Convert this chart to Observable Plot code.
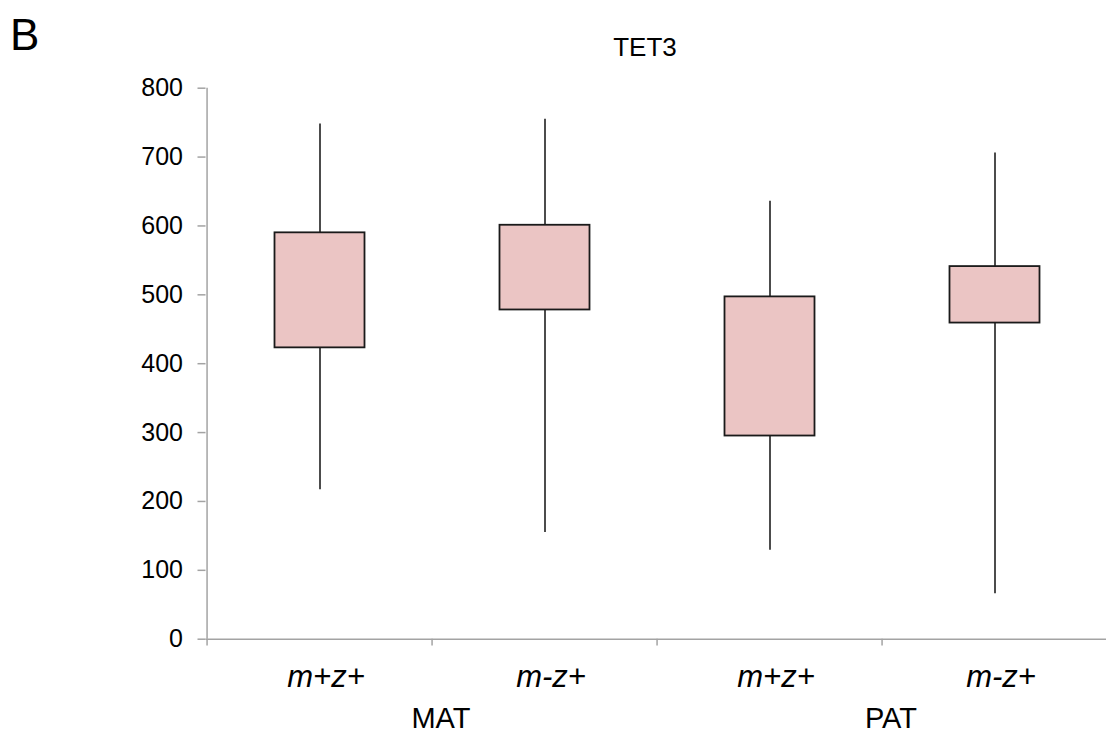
<!DOCTYPE html>
<html>
<head>
<meta charset="utf-8">
<script src="https://cdn.jsdelivr.net/npm/d3@7"></script>
<script src="https://cdn.jsdelivr.net/npm/@observablehq/plot@0.6"></script>
<style>
  html, body { margin: 0; padding: 0; background: #fff; overflow: hidden; }
  body { width: 1106px; height: 736px; font-family: "Liberation Sans", Arial, sans-serif; }
  #header { position: relative; height: 70px; }
  #panel { position: absolute; left: 10px; top: 13px; font-size: 44px; line-height: 1; color: #000; }
  #title { position: absolute; left: 645px; top: 34px; transform: translateX(-50%); font-size: 26px; line-height: 1; color: #000; white-space: nowrap; }
  #chart svg { display: block; overflow: visible; max-width: none !important; }
</style>
</head>
<body>
<div id="header"><div id="panel">B</div><div id="title">TET3</div></div>
<div id="chart"></div>
<script>
// ---- data ----
const groups      = ["MAT", "MAT", "PAT", "PAT"];
const genotypes   = ["m+z+", "m-z+", "m+z+", "m-z+"];
const whiskerLow  = [217, 155, 129, 66];
const q1          = [423, 478, 295, 459];
const q3          = [590, 601, 497, 541];
const whiskerHigh = [748, 755, 636, 706];
const groupNames  = ["MAT", "PAT"];
const yTicks      = [0, 100, 200, 300, 400, 500, 600, 700, 800];

// ---- table built from the arrays ----
const ids = genotypes.map((g, i) => groups[i] + "|" + g);
const rows = ids.map((id, i) => ({
  id, group: groups[i], genotype: genotypes[i],
  lo: whiskerLow[i], q1: q1[i], q3: q3[i], hi: whiskerHigh[i]
}));

const width = 1110, marginLeft = 205.5, marginRight = 1;
const bw = (width - marginLeft - marginRight) / ids.length;
const axisGray = "#a3a3a3";

const chart = Plot.plot({
  width,
  height: 666,
  marginLeft,
  marginRight,
  marginTop: 17.7,
  marginBottom: 97.3,
  style: { fontFamily: "'Liberation Sans', Arial, sans-serif", color: "#000", background: "#fff", maxWidth: "none" },
  x: { type: "band", domain: ids, padding: 0, axis: null },
  y: { domain: [0, 800], axis: null },
  marks: [
    // axes
    Plot.axisY({ ticks: yTicks, tickSize: 8, tickPadding: 15, fontSize: 25, stroke: axisGray, strokeWidth: 1.5, fill: "#000", label: null }),
    Plot.ruleX(ids.slice(0, 1), { x: d => d, dx: -bw / 2, y1: 0, y2: 800, stroke: axisGray, strokeWidth: 1.5 }),
    Plot.ruleY([0], { stroke: axisGray, strokeWidth: 1.5 }),
    Plot.ruleX(ids, { x: d => d, dx: -bw / 2, y1: 0, y2: -10, stroke: axisGray, strokeWidth: 1.5 }),
    Plot.ruleX(ids.slice(-1), { x: d => d, dx: bw / 2, y1: 0, y2: -10, stroke: axisGray, strokeWidth: 1.5 }),
    // whiskers
    Plot.ruleX(rows, { x: "id", y1: "lo", y2: "hi", stroke: "#111", strokeWidth: 1.5 }),
    // boxes
    Plot.barY(rows, { x: "id", y1: "q1", y2: "q3", fill: "#ebc5c4", stroke: "#1a1a1a", strokeWidth: 1.8, insetLeft: 67.5, insetRight: 67.5 }),
    // category labels
    Plot.text(rows, { x: "id", text: "genotype", frameAnchor: "bottom", dy: 48, dx: 6, lineAnchor: "bottom", fontStyle: "italic", fontSize: 31, fill: "#000" }),
    // group labels
    Plot.text(groupNames, { x: g => ids[groups.indexOf(g)], text: d => d, frameAnchor: "bottom", dy: 89, dx: bw / 2 + 8, lineAnchor: "bottom", fontSize: 29, fill: "#000" })
  ]
});
document.getElementById("chart").appendChild(chart);
</script>
</body>
</html>
